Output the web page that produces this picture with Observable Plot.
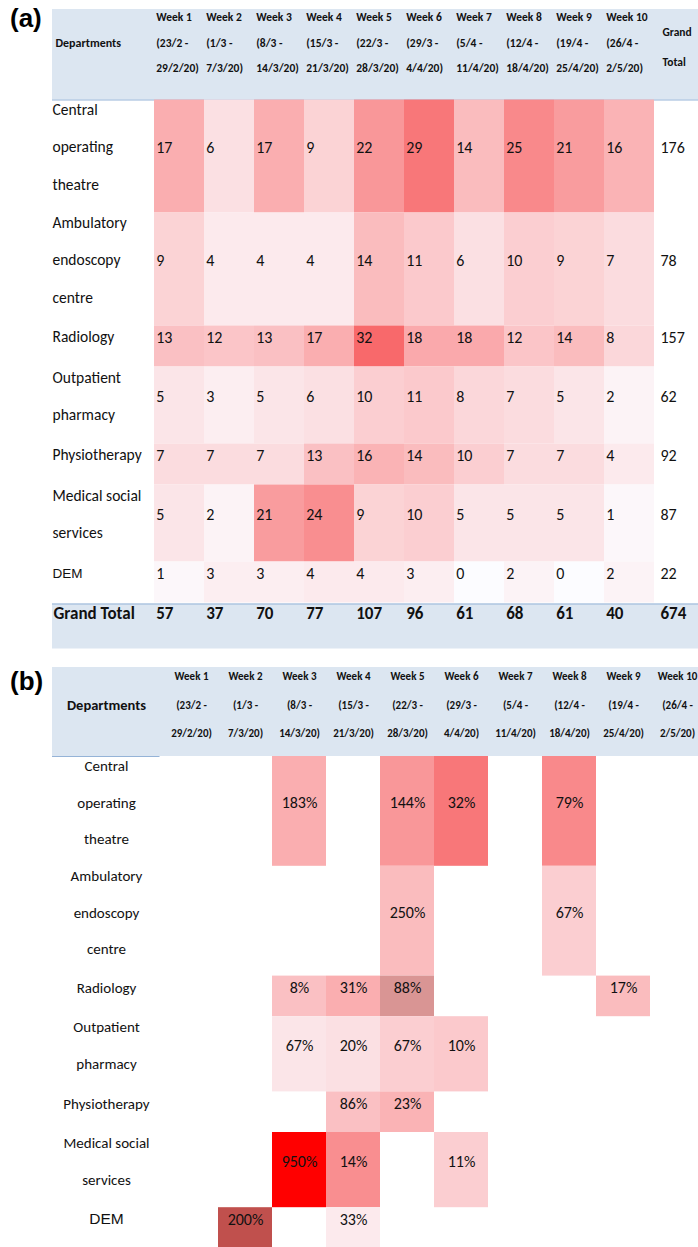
<!DOCTYPE html>
<html>
<head>
<meta charset="utf-8">
<script src="https://cdn.jsdelivr.net/npm/d3@7"></script>
<script src="https://cdn.jsdelivr.net/npm/@observablehq/plot@0.6"></script>
<style>
  body { margin: 0; background: #fff; }
  #wrap { width: 698px; }
  .panel { position: relative; width: 698px; }
  .panel svg { display: block; }
  .tag { position: absolute; left: 10px; font: bold 26px "Liberation Sans", Arial, sans-serif; color: #000; }
</style>
</head>
<body>
<div id="wrap">
  <div class="panel" id="pa"></div>
  <div class="panel" id="pb"></div>
</div>
<script>
// ---------------- DATA ----------------
const departments = ["Central operating theatre", "Ambulatory endoscopy centre", "Radiology",
  "Outpatient pharmacy", "Physiotherapy", "Medical social services", "DEM"];
const departmentLines = [["Central", "operating", "theatre"], ["Ambulatory", "endoscopy", "centre"],
  ["Radiology"], ["Outpatient", "pharmacy"], ["Physiotherapy"], ["Medical social", "services"], ["DEM"]];
const weeks = ["Week 1", "Week 2", "Week 3", "Week 4", "Week 5", "Week 6", "Week 7", "Week 8", "Week 9", "Week 10"];
const weekFrom = ["(23/2 -", "(1/3 -", "(8/3 -", "(15/3 -", "(22/3 -", "(29/3 -", "(5/4 -", "(12/4 -", "(19/4 -", "(26/4 -"];
const weekTo = ["29/2/20)", "7/3/20)", "14/3/20)", "21/3/20)", "28/3/20)", "4/4/20)", "11/4/20)", "18/4/20)", "25/4/20)", "2/5/20)"];

const countsCentral      = [17, 6, 17, 9, 22, 29, 14, 25, 21, 16];
const countsAmbulatory   = [9, 4, 4, 4, 14, 11, 6, 10, 9, 7];
const countsRadiology    = [13, 12, 13, 17, 32, 18, 18, 12, 14, 8];
const countsOutpatient   = [5, 3, 5, 6, 10, 11, 8, 7, 5, 2];
const countsPhysio       = [7, 7, 7, 13, 16, 14, 10, 7, 7, 4];
const countsMedSocial    = [5, 2, 21, 24, 9, 10, 5, 5, 5, 1];
const countsDEM          = [1, 3, 3, 4, 4, 3, 0, 2, 0, 2];
const departmentTotals   = [176, 78, 157, 62, 92, 87, 22];
const weeklyTotals       = [57, 37, 70, 77, 107, 96, 61, 68, 61, 40];
const grandTotal         = 674;

const increaseCentral    = [null, null, 183, null, 144, 32, null, 79, null, null];
const increaseAmbulatory = [null, null, null, null, 250, null, null, 67, null, null];
const increaseRadiology  = [null, null, 8, 31, 88, null, null, null, 17, null];
const increaseOutpatient = [null, null, 67, 20, 67, 10, null, null, null, null];
const increasePhysio     = [null, null, null, 86, 23, null, null, null, null, null];
const increaseMedSocial  = [null, null, 950, 14, null, 11, null, null, null, null];
const increaseDEM        = [null, 200, null, 33, null, null, null, null, null, null];

const highlightedCells = ["Radiology|Week 5", "Medical social services|Week 3", "DEM|Week 2"];

// ---------------- STYLE ----------------
const counts = [countsCentral, countsAmbulatory, countsRadiology, countsOutpatient, countsPhysio, countsMedSocial, countsDEM];
const increases = [increaseCentral, increaseAmbulatory, increaseRadiology, increaseOutpatient, increasePhysio, increaseMedSocial, increaseDEM];
const highlightColors = ["#d99594", "#ff0000", "#c0504d"];
const headerFill = "#dce6f1";
const headerLine = "#95b3d7";
const colorRange = ["#fcfcff", "#f8696b"];
const FONT = "Carlito, Lato, sans-serif";
const ARIAL = "'Liberation Sans', Arial, sans-serif";
const arialLabels = ["DEM"];
const countExtent = d3.extent(counts.flat());

// split multi-line text into one datum per line, centred on yCenter
function splitLines(items, getLines, getCenter, spacing) {
  return items.flatMap(d => {
    const lines = getLines(d), n = lines.length;
    return lines.map((t, k) => ({...d, line: t, ly: getCenter(d) + (k - (n - 1) / 2) * spacing}));
  });
}

// ---------------- PANEL (a) ----------------
{
  const W = 698, H = 655;
  const xRange = [151, 656];
  const bw = (xRange[1] - xRange[0]) / weeks.length;
  const LINE = 36, PAD = 5, LABEL_LH = 37.5;
  const head = {top: 9, bottom: 99.5};
  let y = head.bottom;
  const rows = departments.map((d, i) => {
    const h = departmentLines[i].length * LINE + PAD;
    const r = {department: d, lines: departmentLines[i], total: departmentTotals[i], y1: y, y2: y + h, ym: y + h / 2 - 9};
    y += h;
    return r;
  });
  const totalRow = {y1: y + 1, y2: y + 46, ym: y + 11};
  const cells = rows.flatMap((r, i) => weeks.map((w, j) => ({...r, week: w, count: counts[i][j]})));
  const labelLines = splitLines(rows, d => d.lines, d => d.ym, LABEL_LH);
  const heads = splitLines(weeks.map((w, j) => ({week: w, lines: [w, weekFrom[j], weekTo[j]]})), d => d.lines, () => head.top + 33.5, 25.5);
  const grandHead = splitLines([{lines: ["Grand", "Total"]}], d => d.lines, () => head.top + 38, 30);
  const totals = weeks.map((w, j) => ({week: w, value: weeklyTotals[j]}));
  const dx = -bw / 2 + 2;
  const txt = {fill: "#111"};

  const plot = Plot.plot({
    width: W, height: H,
    marginLeft: 52, marginRight: 0, marginTop: 0, marginBottom: 0,
    style: {fontFamily: FONT, color: "#000", background: "#fff"},
    x: {domain: weeks, range: xRange, padding: 0, axis: null},
    y: {domain: [0, H], range: [0, H], axis: null},
    color: {type: "linear", domain: countExtent, range: colorRange, interpolate: "rgb"},
    marks: [
      Plot.rect([head], {y1: "top", y2: "bottom", fill: headerFill}),
      Plot.ruleY([head.bottom], {stroke: headerLine, strokeWidth: 1.2}),
      Plot.barY(cells, {x: "week", y1: "y1", y2: "y2", fill: "count", inset: 0}),
      Plot.text(cells, {x: "week", y: "ym", text: "count", textAnchor: "start", dx, fontSize: 16, ...txt}),
      Plot.text(labelLines.filter(d => !arialLabels.includes(d.line)), {frameAnchor: "left", y: "ly", text: "line", textAnchor: "start", fontSize: 15.5, ...txt}),
      Plot.text(labelLines.filter(d => arialLabels.includes(d.line)), {frameAnchor: "left", y: "ly", text: "line", textAnchor: "start", fontSize: 13.5, fontFamily: ARIAL, ...txt}),
      Plot.text(rows, {frameAnchor: "right", dx: -38, y: "ym", text: "total", textAnchor: "start", fontSize: 16, ...txt}),
      // header texts
      Plot.text(heads, {x: "week", y: "ly", text: "line", textAnchor: "start", dx, fontSize: 11.5, fontWeight: "bold", ...txt}),
      Plot.text(["Departments"], {frameAnchor: "left", dx: 3, y: head.top + 33.5, text: d => d, textAnchor: "start", fontSize: 12, fontWeight: "bold", ...txt}),
      Plot.text(grandHead, {frameAnchor: "right", dx: -36, y: "ly", text: "line", textAnchor: "start", fontSize: 11.5, fontWeight: "bold", ...txt}),
      // grand total row
      Plot.rect([totalRow], {y1: "y1", y2: "y2", fill: headerFill}),
      Plot.ruleY([totalRow.y1], {stroke: headerLine, strokeWidth: 1.2}),
      Plot.text(["Grand Total"], {frameAnchor: "left", dx: 1, y: totalRow.ym, text: d => d, textAnchor: "start", fontSize: 17, fontWeight: "bold", ...txt}),
      Plot.text(totals, {x: "week", y: totalRow.ym, text: "value", textAnchor: "start", dx, fontSize: 17, fontWeight: "bold", ...txt}),
      Plot.text([grandTotal], {frameAnchor: "right", dx: -38, y: totalRow.ym, text: d => d, textAnchor: "start", fontSize: 17, fontWeight: "bold", ...txt})
    ]
  });
  const el = document.getElementById("pa");
  el.appendChild(plot);
  const tag = document.createElement("div");
  tag.className = "tag"; tag.style.top = "3px"; tag.textContent = "(a)";
  el.appendChild(tag);
}

// ---------------- PANEL (b) ----------------
{
  const W = 698, H = 592;
  const xRange = [159.5, 707.5];
  const LINE = 34.6, PAD = 6, LABEL_LH = 36.5;
  const head = {top: 12, bottom: 101};
  let cScale;
  try { cScale = Plot.scale({color: {type: "linear", domain: countExtent, range: colorRange, interpolate: "rgb"}}); }
  catch (e) { cScale = null; }
  const toColor = cScale && cScale.apply ? v => cScale.apply(v) : d3.scaleLinear().domain(countExtent).range(colorRange).interpolate(d3.interpolateRgb);
  let y = head.bottom;
  const rows = departments.map((d, i) => {
    const h = departmentLines[i].length * LINE + PAD;
    const r = {department: d, lines: departmentLines[i], y1: y, y2: y + h, ym: y + h / 2 - 8.5};
    y += h;
    return r;
  });
  const cells = rows.flatMap((r, i) => weeks.map((w, j) => {
    const key = r.department + "|" + w;
    const hi = highlightedCells.indexOf(key);
    return {...r, week: w, pct: increases[i][j], fill: hi >= 0 ? highlightColors[hi] : toColor(counts[i][j])};
  })).filter(d => d.pct != null);
  const labelLines = splitLines(rows, d => d.lines, d => d.ym, LABEL_LH);
  const heads = splitLines(weeks.map((w, j) => ({week: w, lines: [w, weekFrom[j], weekTo[j]]})), d => d.lines, () => head.top + 37.5, 28.5);
  const txt = {fill: "#111"};

  const plot = Plot.plot({
    width: W, height: H,
    marginLeft: 52, marginRight: 0, marginTop: 0, marginBottom: 0,
    style: {fontFamily: FONT, color: "#000", background: "#fff"},
    x: {domain: weeks, range: xRange, padding: 0, axis: null},
    y: {domain: [0, H], range: [0, H], axis: null},
    color: {type: "identity"},
    marks: [
      Plot.rect([head], {y1: "top", y2: "bottom", fill: headerFill}),
      Plot.ruleY([head.bottom], {stroke: headerLine, strokeWidth: 1.2, insetRight: W - xRange[0]}),
      Plot.barY(cells, {x: "week", y1: "y1", y2: "y2", fill: "fill", inset: 0}),
      Plot.text(cells, {x: "week", y: "ym", text: d => d.pct + "%", fontSize: 16, ...txt}),
      Plot.text(labelLines.filter(d => !arialLabels.includes(d.line)), {frameAnchor: "left", dx: 54, y: "ly", text: "line", textAnchor: "middle", fontSize: 15, ...txt}),
      Plot.text(labelLines.filter(d => arialLabels.includes(d.line)), {frameAnchor: "left", dx: 54, y: "ly", text: "line", textAnchor: "middle", fontSize: 15.5, fontFamily: ARIAL, ...txt}),
      Plot.text(heads, {x: "week", y: "ly", text: "line", fontSize: 11, fontWeight: "bold", ...txt}),
      Plot.text(["Departments"], {frameAnchor: "left", dx: 54, y: head.top + 37.5, text: d => d, textAnchor: "middle", fontSize: 14.5, fontWeight: "bold", ...txt})
    ]
  });
  const el = document.getElementById("pb");
  el.appendChild(plot);
  const tag = document.createElement("div");
  tag.className = "tag"; tag.style.top = "11px"; tag.textContent = "(b)";
  el.appendChild(tag);
}
</script>
</body>
</html>
